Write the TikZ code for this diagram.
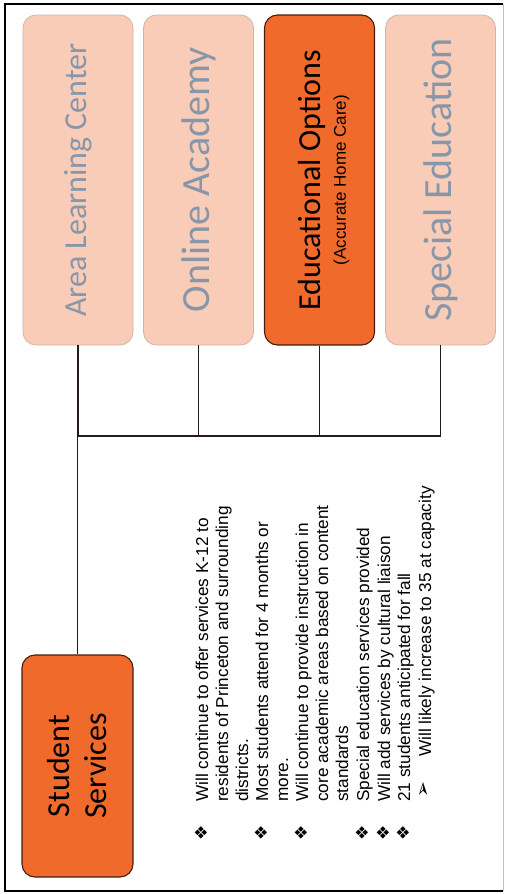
\documentclass[tikz,border=0pt]{standalone}
\usepackage{fontspec}
\setmainfont{Liberation Sans}
\newfontfamily\calib{Carlito}
\newfontfamily\djv{DejaVu Sans}
\definecolor{peach}{RGB}{249,204,184}
\definecolor{peachline}{RGB}{212,178,166}
\definecolor{orng}{RGB}{240,106,44}
\definecolor{orngline}{RGB}{75,28,14}
\definecolor{greytxt}{RGB}{136,150,170}
\definecolor{conn}{RGB}{40,25,25}
\begin{document}
\begin{tikzpicture}[x=1pt,y=-1pt,
  boxbase/.style={rotate=90, rounded corners=13pt, minimum width=330pt, minimum height=110pt, inner sep=0pt, align=center},
  lightbox/.style={boxbase, draw=peachline, line width=0.8pt, fill=peach, text=greytxt},
  hotbox/.style={boxbase, draw=orngline, line width=1.1pt, fill=orng, text=black},
  btxt/.style={rotate=90, anchor=base west, inner sep=0pt, font=\fontsize{17.2}{20}\selectfont},
  bul/.style={rotate=90, inner sep=0pt, font=\djv\fontsize{17}{18}\selectfont},
  connector/.style={draw=conn, line width=1.3pt}]
\useasboundingbox (0,0) rectangle (505,894);
% frame
\draw[line width=1.8pt] (503,4) -- (5,4) -- (5,891) -- (503,891);
\draw[black!25, line width=0.6pt] (503.5,4) -- (503.5,891);

% top boxes
\node[lightbox, font=\calib\fontsize{32}{37}\selectfont] (alc) at (78,180) {Area Learning Center};
\node[lightbox, font=\calib\fontsize{40}{44}\selectfont] (oa) at (198.5,180) {Online Academy};
\node[hotbox] (eo) at (319.5,180) {{\calib\fontsize{32}{37}\selectfont\rule{0pt}{31pt}Educational Options}\\[7pt]{\fontsize{17}{18}\selectfont (Accurate Home Care)}};
\node[lightbox, font=\calib\fontsize{40}{44}\selectfont] (sped) at (440.5,180) {Special Education};

% root box
\node[hotbox, minimum width=222pt, minimum height=111pt, font=\calib\fontsize{32}{37}\selectfont] (ss) at (77.5,766) {Student\\Services};

% connectors
\coordinate (bus) at (0,436);
\draw[connector] (ss.east) -- (ss.east |- bus) -- (sped.west |- bus) -- (sped.west);
\draw[connector] (alc.west) -- (alc.west |- bus);
\draw[connector] (oa.west) -- (oa.west |- bus);
\draw[connector] (eo.west) -- (eo.west |- bus);

% bullet text
\node[btxt] (l1) at (208,802) {Will continue to offer services K-12 to};
\node[btxt] (l2) at (228,802) {residents of Princeton and surrounding};
\node[btxt] (l3) at (248,802) {districts.};
\node[btxt] (l4) at (268,802) {Most students attend for 4 months or};
\node[btxt] (l5) at (288,802) {more.};
\node[btxt] (l6) at (308,802) {Will continue to provide instruction in};
\node[btxt] (l7) at (328,802) {core academic areas based on content};
\node[btxt] (l8) at (348,802) {standards};
\node[btxt] (l9) at (369,802) {Special education services provided};
\node[btxt] (l10) at (390,802) {Will add services by cultural liaison};
\node[btxt] (l11) at (410,802) {21 students anticipated for fall};
\node[btxt] (l12) at (431,757) {Will likely increase to 35 at capacity};

\node[bul] (b1) at (201,833) {❖};
\node[bul] (b2) at (261,833) {❖};
\node[bul] (b3) at (301,833) {❖};
\node[bul] (b4) at (362,833) {❖};
\node[bul] (b5) at (383,833) {❖};
\node[bul] (b6) at (403,833) {❖};
\node[bul, font=\djv\fontsize{19}{20}\selectfont] (b7) at (424,790) {➢};
\end{tikzpicture}
\end{document}
